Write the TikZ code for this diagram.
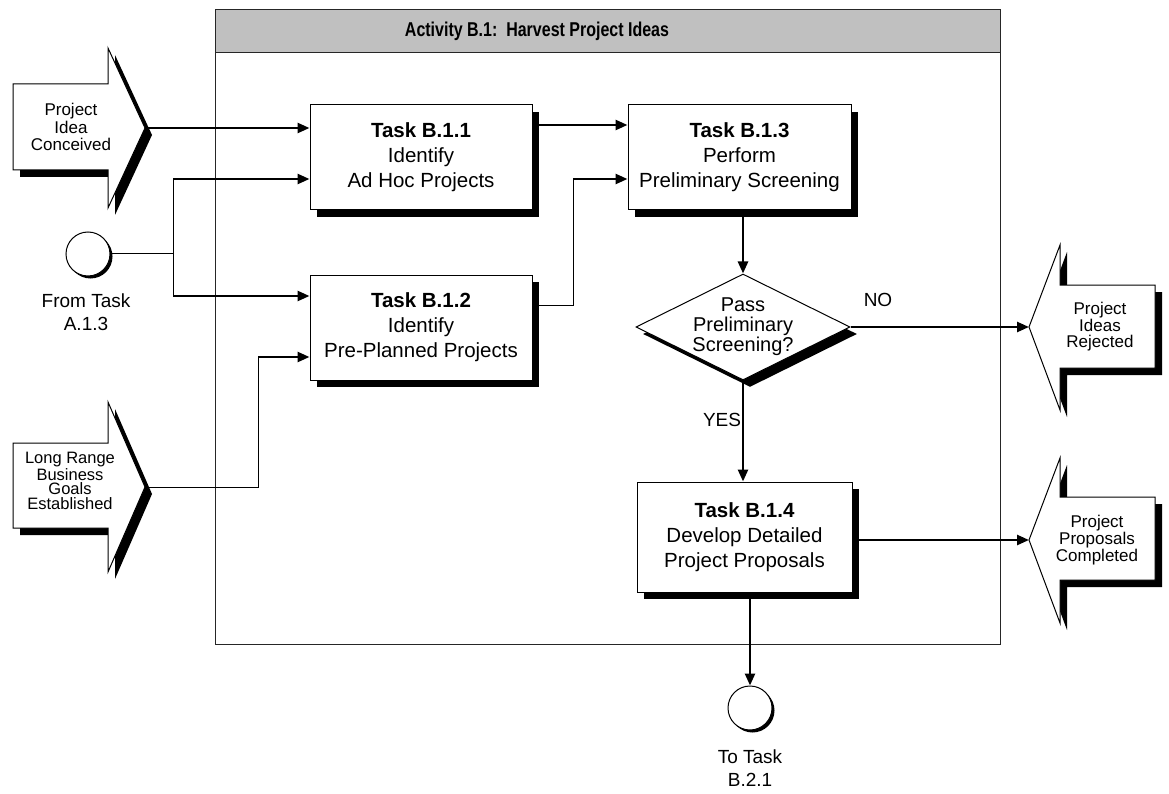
\documentclass[tikz,border=0pt]{standalone}
\usepackage{fontspec}
\setmainfont{Liberation Sans}
\newfontfamily\narrowsans[FakeStretch=0.8]{Liberation Sans}
\usetikzlibrary{arrows.meta,shapes.geometric,shadows}
\definecolor{bargray}{RGB}{192,192,192}

\begin{document}
\begin{tikzpicture}[x=1pt,y=-1pt,
  shade7/.style={drop shadow={shadow xshift=7pt,shadow yshift=-7pt,fill=black,opacity=1}},
  shade3/.style={drop shadow={shadow xshift=2.5pt,shadow yshift=-2.5pt,fill=black,opacity=1}},
  task/.style={draw=black,line width=1pt,fill=white,shade7,align=center,
    font=\fontsize{20.5}{25}\selectfont,inner sep=0pt,minimum width=222pt,minimum height=105pt},
  blockarrow/.style={draw=black,line width=1pt,fill=white,shade7},
  atext/.style={align=center,inner sep=0pt},
  term/.style={circle,draw=black,line width=1pt,fill=white,shade3,minimum size=44pt,inner sep=0pt},
  caption/.style={align=center,inner sep=0pt,font=\fontsize{19}{23}\selectfont},
  thinline/.style={line width=1pt},
  flow/.style={line width=2.5pt,-{Triangle[length=12pt,width=10pt]}},
]
\useasboundingbox (0,0) rectangle (1169,794);

% activity frame and title bar
\draw[line width=1pt,black!85] (215,10) rectangle (1000,644);
\draw[line width=1pt,black!85,fill=bargray] (215,10) rectangle (1000,53);
\node[inner sep=0pt,font=\narrowsans\fontsize{20}{22}\selectfont\bfseries]
  (title) at (537,31) {Activity B.1:\ \ Harvest Project Ideas};

% incoming block arrows
\draw[blockarrow] (13,84) -- (108,84) -- (108,48) -- (145,128) -- (108,208) -- (108,170) -- (13,170) -- cycle;
\coordinate (conceived tip) at (145,128);
\node[atext,font=\fontsize{17}{17.5}\selectfont] (conceived) at (71,127) {Project\\Idea\\Conceived};

\draw[blockarrow] (13,443) -- (108,443) -- (108,402) -- (145,487) -- (108,572) -- (108,528) -- (13,528) -- cycle;
\coordinate (goals tip) at (145,487);
\node[atext,font=\fontsize{16.5}{14.5}\selectfont] (goals) at (70,481) {Long Range\\Business\\Goals\\Established};

% outgoing block arrows
\draw[blockarrow] (1029,327) -- (1060,245) -- (1060,285) -- (1155,285) -- (1155,368) -- (1060,368) -- (1060,410) -- cycle;
\coordinate (rejected tip) at (1029,327);
\node[atext,font=\fontsize{17}{16.5}\selectfont] (rejected) at (1100,327) {Project\\Ideas\\Rejected};

\draw[blockarrow] (1029,540) -- (1060,458) -- (1060,497) -- (1155,497) -- (1155,580) -- (1060,580) -- (1060,623) -- cycle;
\coordinate (completed tip) at (1029,540);
\node[atext,font=\fontsize{17}{17}\selectfont] (completed) at (1097,540) {Project\\Proposals\\Completed};

% start and end connectors
\node[term] (from) at (88,254) {};
\node[caption] (fromtext) at (86,312) {From Task\\A.1.3};
\node[term] (to) at (750,708) {};
\node[caption] (totext) at (750,768) {To Task\\B.2.1};

% tasks
\node[task] (b11) at (421,157.5) {\textbf{Task B.1.1}\\Identify\\Ad Hoc Projects};
\node[task] (b12) at (421,327.5) {\textbf{Task B.1.2}\\Identify\\Pre-Planned Projects};
\node[task,minimum width=223pt] (b13) at (739.5,157.5) {\textbf{Task B.1.3}\\Perform\\Preliminary Screening};
\node[task,minimum width=215pt,minimum height=110pt] (b14) at (744.5,537) {\textbf{Task B.1.4}\\Develop Detailed\\Project Proposals};

% decision
\node[diamond,draw=black,line width=1pt,fill=white,shade7,minimum width=214pt,
  minimum height=106pt,inner sep=0pt] (dec) at (743,327) {};
\node[atext,font=\fontsize{20}{20}\selectfont] (dectext) at (dec.center) {Pass\\Preliminary\\Screening?};

% connectors
\draw[flow] (conceived tip) -- (conceived tip -| b11.west);

\coordinate (split) at (173,254);
\coordinate (split top) at (173,179);
\coordinate (split bot) at (173,296);
\draw[thinline] (from.east) -- (split);
\draw[thinline] (split top) -- (split bot);
\draw[flow] (split top) -- (split top -| b11.west);
\draw[flow] (split bot) -- (split bot -| b12.west);

\coordinate (goals bend) at (258,357);
\draw[thinline] (goals tip) -- (goals tip -| goals bend) -- (goals bend);
\draw[flow] (goals bend) -- (goals bend -| b12.west);

\draw[flow] ([yshift=32.5pt]b11.east) -- ([yshift=32.5pt]b11.east -| b13.west);

\coordinate (review bend) at (573,179);
\draw[thinline] ([yshift=22.5pt]b12.east) -- ([yshift=22.5pt]b12.east -| review bend) -- (review bend);
\draw[flow] (review bend) -- (review bend -| b13.west);

\draw[flow] (b13.south -| dec.north) -- (dec.north);
\draw[flow] (dec.east) -- (rejected tip);
\node[caption] (nolabel) at (878,300) {NO};
\draw[flow] (dec.south) -- (dec.south |- b14.north);
\node[caption] (yeslabel) at (722,420) {YES};
\draw[flow] (b14.east |- completed tip) -- (completed tip);
\draw[flow] (b14.south -| to.north) -- (to.north);
\end{tikzpicture}
\end{document}
